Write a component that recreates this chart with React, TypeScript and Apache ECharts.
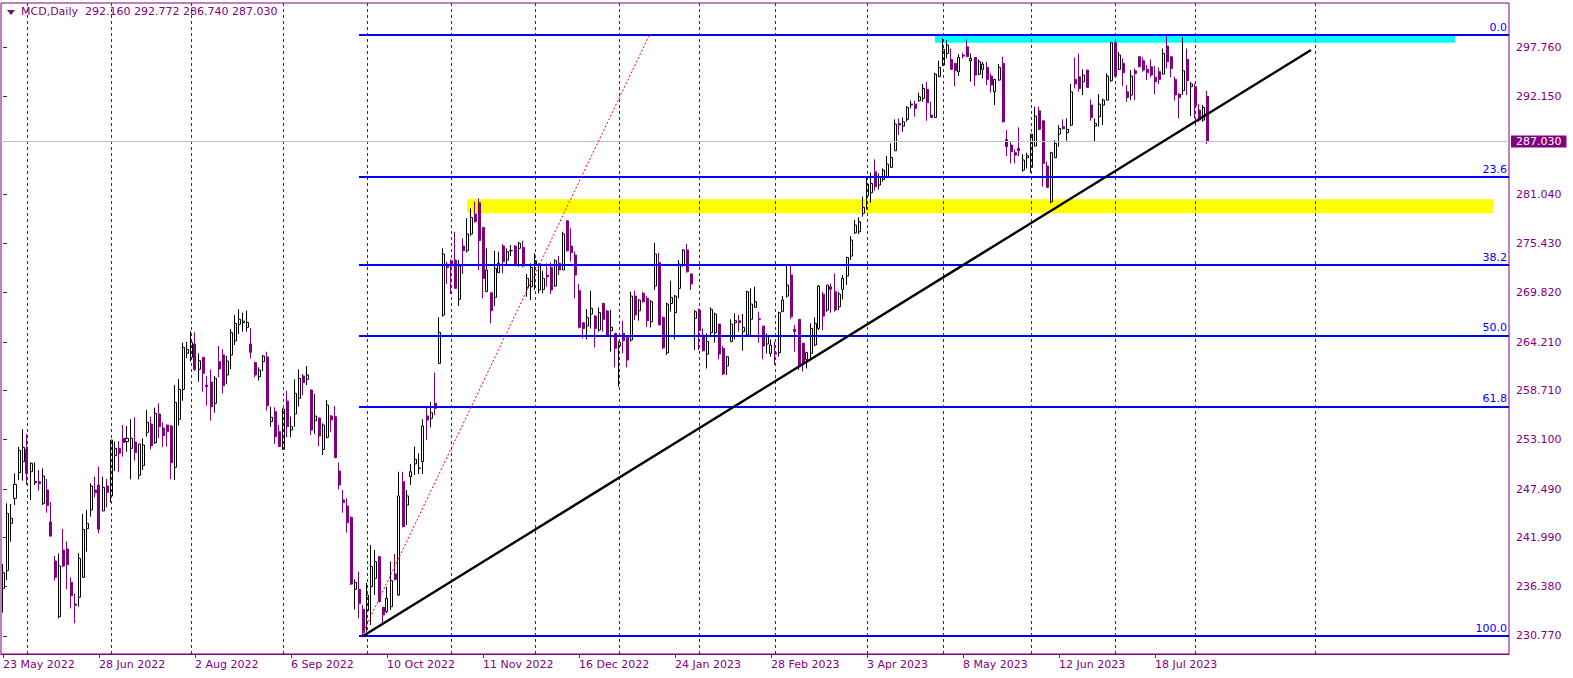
import React, { useEffect, useRef } from "react";
import * as echarts from "echarts";

const SYMBOL = "MCD";
const PERIOD = "Daily";
const START_DATE = "2022-05-23";
const TOTAL_SLOTS = 377;
const HOLIDAYS = [
  "2022-05-30", "2022-06-20", "2022-07-04", "2022-09-05", "2022-11-24", "2022-12-26",
  "2023-01-02", "2023-01-16", "2023-02-20", "2023-04-07", "2023-05-29", "2023-06-19",
  "2023-07-04", "2023-09-04",
];
const MONTHS = ["Jan", "Feb", "Mar", "Apr", "May", "Jun", "Jul", "Aug", "Sep", "Oct", "Nov", "Dec"];

const OPEN = [
  236.19, 238.2, 243.58, 246.43, 249.35, 250.6, 252.0, 249.46, 248.2, 248.32,
  245.82, 247.38, 243.74, 239.3, 232.97, 240.55, 240.66, 236.87, 234.41, 235.17,
  237.44, 242.98, 245.1, 247.38, 247.95, 244.99, 247.83, 246.7, 251.28, 252.12,
  253.26, 252.88, 252.12, 252.84, 249.05, 250.15, 253.94, 254.89, 252.76, 256.02,
  254.43, 254.77, 254.66, 249.96, 255.42, 258.83, 262.93, 262.47, 263.99, 261.11,
  262.47, 259.32, 259.66, 257.24, 261.98, 262.74, 260.46, 262.74, 264.33, 266.22,
  266.42, 265.88, 263.99, 261.86, 260.27, 261.98, 262.51, 255.15, 256.29, 254.01,
  252.0, 257.5, 254.2, 256.02, 257.81, 260.35, 259.97, 258.75, 255.26, 255.57,
  252.0, 253.37, 255.79, 255.72, 249.54, 246.24, 245.56, 244.27, 236.08, 236.08,
  233.8, 233.65, 236.38, 237.33, 239.79, 234.03, 233.54, 234.1, 237.82, 235.43,
  248.32, 245.67, 248.9, 250.34, 249.84, 250.6, 255.8, 255.53, 257.24, 261.78,
  267.28, 273.08, 273.46, 273.54, 269.06, 275.13, 274.6, 276.5, 278.77, 280.06,
  277.25, 269.94, 269.82, 269.29, 272.1, 275.13, 273.54, 274.6, 275.13, 274.87,
  274.98, 270.43, 270.5, 272.97, 270.13, 270.2, 271.83, 272.7, 270.58, 273.16,
  272.4, 278.01, 275.13, 274.11, 270.05, 266.41, 266.04, 267.39, 267.17, 265.58,
  268.6, 267.74, 265.5, 265.2, 263.76, 265.2, 264.74, 264.44, 269.44, 267.77,
  269.75, 269.18, 266.52, 270.58, 273.24, 267.02, 262.99, 268.6, 267.55, 270.32,
  272.97, 274.68, 271.95, 266.9, 267.85, 265.01, 262.84, 265.27, 265.27, 266.26,
  263.49, 261.48, 264.25, 266.41, 266.64, 265.39, 265.01, 266.79, 268.15, 266.87,
  266.03, 263.98, 262.92, 263.0, 263.0, 267.66, 269.44, 271.83, 265.65, 266.79,
  264.06, 262.2, 262.92, 263.87, 265.76, 269.66, 267.85, 270.5, 269.93, 268.22,
  270.2, 271.71, 273.99, 276.64, 276.75, 278.84, 280.85, 281.19, 283.58, 282.07,
  282.71, 283.01, 284.08, 285.97, 289.08, 288.78, 289.54, 291.2, 291.28, 291.66,
  291.92, 292.95, 290.03, 289.76, 294.39, 295.72, 297.04, 296.36, 295.91, 294.96,
  296.86, 297.8, 296.21, 296.59, 294.69, 295.23, 295.45, 294.47, 292.68, 294.01,
  295.91, 287.26, 286.62, 285.75, 286.24, 283.77, 285.18, 284.08, 286.5, 290.52,
  289.38, 284.23, 280.17, 285.18, 287.87, 288.7, 288.02, 288.89, 294.09, 294.39,
  293.82, 295.15, 291.17, 288.78, 289.84, 291.17, 291.73, 293.94, 298.26, 295.23,
  295.91, 292.68, 292.31, 295.07, 296.67, 296.21, 295.23, 295.53, 294.32, 294.96,
  294.69, 297.88, 296.67, 294.09, 292.42, 292.8, 296.36, 293.26, 293.25, 290.6,
  289.46, 292.16,
];
const HIGH = [
  238.96, 245.86, 245.78, 249.27, 252.31, 254.28, 253.71, 250.52, 250.52, 249.65,
  249.84, 248.63, 246.01, 239.87, 240.17, 242.94, 241.54, 237.44, 235.62, 240.17,
  244.65, 245.1, 248.14, 248.9, 250.03, 248.9, 248.63, 253.06, 252.88, 252.95,
  254.77, 254.66, 255.42, 255.65, 252.61, 253.26, 256.48, 255.72, 256.74, 257.24,
  255.08, 254.81, 254.77, 259.32, 260.0, 264.14, 264.25, 265.47, 265.31, 262.92,
  262.47, 260.35, 261.1, 260.35, 263.76, 263.38, 262.62, 265.69, 267.29, 267.93,
  267.55, 267.78, 265.77, 261.97, 261.33, 262.74, 263.11, 256.86, 256.78, 254.77,
  256.67, 258.68, 255.72, 259.97, 261.1, 260.57, 261.48, 258.83, 258.3, 255.61,
  254.96, 257.62, 255.91, 256.93, 250.49, 247.38, 246.43, 244.34, 237.21, 238.09,
  234.29, 236.83, 241.12, 240.55, 239.87, 234.1, 236.38, 239.23, 240.1, 249.46,
  249.46, 247.38, 250.34, 252.31, 251.55, 255.42, 256.86, 257.43, 260.73, 267.02,
  274.87, 273.35, 273.61, 276.76, 273.54, 276.0, 278.28, 279.42, 280.18, 280.55,
  277.25, 274.87, 269.82, 274.6, 274.49, 275.36, 274.87, 275.25, 275.25, 275.63,
  275.74, 271.95, 273.16, 274.3, 273.16, 272.33, 273.16, 273.24, 273.61, 273.99,
  276.76, 278.09, 277.14, 274.49, 270.81, 266.41, 267.93, 270.05, 267.28, 268.15,
  268.68, 267.85, 267.85, 265.2, 264.3, 266.64, 264.74, 269.94, 270.05, 269.06,
  269.94, 269.44, 268.99, 275.51, 274.37, 267.09, 268.68, 271.19, 269.56, 273.54,
  274.75, 275.36, 272.02, 267.85, 268.04, 265.76, 265.2, 268.15, 267.55, 266.26,
  263.76, 262.62, 266.79, 267.47, 267.28, 267.39, 270.05, 270.32, 270.5, 267.66,
  266.03, 265.2, 264.51, 264.25, 267.66, 269.44, 273.08, 273.08, 266.15, 266.79,
  264.14, 263.11, 266.33, 267.01, 270.69, 269.93, 270.69, 270.88, 272.02, 269.93,
  271.83, 273.91, 276.26, 278.09, 278.39, 280.74, 283.01, 283.47, 284.99, 283.39,
  283.96, 285.37, 286.81, 289.54, 289.65, 289.76, 291.05, 291.66, 291.66, 292.57,
  293.56, 293.82, 291.54, 294.85, 296.21, 298.75, 298.56, 297.61, 295.98, 296.97,
  297.12, 298.64, 297.04, 296.59, 296.36, 296.1, 296.1, 294.77, 294.09, 295.83,
  296.67, 288.32, 286.99, 286.12, 288.63, 285.59, 285.75, 287.87, 290.98, 290.98,
  289.38, 284.72, 285.86, 287.19, 288.89, 289.54, 289.65, 293.56, 296.59, 297.04,
  295.23, 295.15, 291.81, 289.65, 292.42, 291.92, 294.77, 298.26, 298.3, 297.23,
  296.48, 293.44, 295.15, 295.34, 296.74, 296.59, 295.72, 296.36, 295.6, 295.45,
  297.61, 299.1, 296.67, 294.39, 292.49, 298.87, 297.61, 293.82, 293.63, 291.28,
  291.17, 292.772,
];
const LOW = [
  233.42, 237.14, 241.5, 245.67, 248.51, 248.44, 247.95, 246.24, 247.95, 247.3,
  245.67, 244.8, 242.07, 237.06, 232.78, 238.58, 236.08, 233.91, 232.21, 234.1,
  237.44, 240.36, 244.34, 246.54, 242.45, 244.99, 245.41, 245.97, 249.54, 249.39,
  251.17, 251.74, 248.59, 250.71, 248.59, 249.65, 253.44, 252.0, 252.61, 253.29,
  252.23, 252.31, 248.63, 248.51, 254.7, 257.54, 262.36, 261.98, 260.92, 259.7,
  258.56, 256.97, 255.26, 256.17, 260.2, 258.37, 259.44, 261.14, 263.87, 265.12,
  265.39, 265.39, 262.36, 260.2, 259.82, 260.92, 256.4, 254.58, 252.61, 252.31,
  251.93, 253.37, 253.37, 254.58, 256.86, 258.18, 259.32, 253.63, 253.75, 252.38,
  251.36, 253.26, 254.01, 251.05, 247.45, 244.8, 242.52, 236.57, 233.8, 232.78,
  230.77, 231.26, 232.02, 235.43, 234.67, 232.1, 233.35, 233.73, 237.06, 235.32,
  243.13, 243.39, 247.95, 249.08, 249.2, 249.2, 253.07, 254.51, 255.91, 261.78,
  267.1, 270.81, 269.67, 270.32, 268.31, 271.95, 274.4, 276.3, 277.79, 272.4,
  269.18, 269.94, 266.33, 268.31, 272.1, 272.02, 273.08, 273.99, 272.86, 272.78,
  272.7, 269.37, 268.99, 270.13, 269.75, 269.75, 270.5, 269.67, 270.5, 271.83,
  272.4, 274.49, 273.35, 269.18, 265.76, 264.63, 264.51, 265.76, 263.6, 265.39,
  265.39, 265.01, 263.11, 261.33, 259.13, 262.92, 261.33, 264.25, 266.72, 266.64,
  268.68, 265.95, 265.88, 270.13, 266.15, 263.38, 262.74, 267.66, 264.51, 269.18,
  272.78, 272.1, 270.13, 263.3, 263.3, 263.11, 261.21, 265.01, 264.14, 262.24,
  260.46, 260.46, 264.25, 264.51, 265.39, 263.23, 265.01, 265.01, 268.15, 264.14,
  262.24, 262.92, 262.54, 261.6, 262.54, 267.66, 269.29, 266.79, 263.11, 261.03,
  260.84, 261.21, 262.2, 263.75, 265.57, 265.57, 267.66, 267.54, 267.66, 267.85,
  269.06, 270.69, 273.54, 276.49, 276.49, 278.47, 279.3, 280.06, 281.42, 281.57,
  282.45, 282.94, 284.08, 285.97, 287.75, 288.13, 289.27, 290.79, 289.84, 291.54,
  291.54, 289.38, 289.76, 289.76, 294.39, 295.6, 296.48, 295.23, 293.33, 294.47,
  296.48, 296.67, 293.82, 293.33, 294.58, 294.2, 293.44, 292.57, 291.17, 293.94,
  289.16, 285.37, 284.53, 284.53, 285.37, 283.58, 283.96, 283.47, 286.5, 288.32,
  281.88, 281.8, 279.98, 285.18, 286.43, 288.4, 287.11, 288.78, 293.06, 292.68,
  292.31, 293.18, 289.38, 286.99, 288.7, 288.89, 291.73, 293.82, 294.39, 295.15,
  293.33, 291.54, 291.73, 291.73, 295.45, 294.96, 294.01, 294.32, 292.42, 293.56,
  294.69, 295.34, 294.32, 291.66, 289.65, 292.31, 292.31, 289.92, 289.65, 289.27,
  289.27, 286.74,
];
const CLOSE = [
  237.97, 244.72, 244.15, 248.02, 251.89, 252.23, 249.27, 250.41, 248.35, 248.1,
  248.97, 245.6, 242.14, 237.44, 238.73, 238.73, 238.88, 235.35, 234.26, 239.6,
  242.9, 243.58, 247.83, 247.07, 242.9, 247.68, 247.11, 253.06, 252.12, 251.55,
  252.76, 253.26, 253.26, 251.62, 252.61, 252.5, 255.08, 252.42, 256.1, 254.58,
  253.56, 254.01, 250.49, 257.35, 258.83, 263.61, 263.38, 264.18, 261.11, 262.09,
  260.65, 259.13, 256.86, 260.08, 261.14, 259.25, 262.05, 265.28, 266.34, 266.8,
  266.6, 266.45, 263.04, 260.46, 261.03, 262.62, 256.97, 255.65, 253.44, 252.31,
  256.59, 254.58, 254.58, 258.37, 260.08, 259.59, 260.46, 254.2, 255.79, 253.52,
  254.77, 257.05, 255.34, 251.05, 247.95, 245.94, 243.66, 236.68, 236.87, 234.48,
  231.15, 235.43, 238.66, 239.23, 234.67, 233.16, 235.05, 237.06, 237.21, 246.7,
  243.21, 246.7, 249.46, 250.87, 249.88, 254.66, 255.34, 256.17, 256.67, 265.31,
  274.22, 272.7, 272.86, 270.32, 272.86, 274.6, 276.5, 278.39, 277.9, 275.74,
  271.45, 272.4, 267.77, 272.59, 273.16, 273.35, 274.49, 274.62, 273.08, 275.44,
  272.86, 271.45, 272.7, 273.46, 273.08, 271.45, 271.64, 270.13, 273.46, 272.4,
  276.5, 274.6, 274.37, 271.83, 265.88, 265.76, 266.99, 268.04, 265.76, 267.55,
  266.79, 265.01, 265.88, 263.49, 264.14, 264.36, 262.16, 269.44, 267.28, 268.99,
  268.8, 266.64, 268.8, 274.22, 266.15, 263.56, 268.53, 269.29, 269.44, 273.08,
  274.68, 272.21, 270.81, 267.66, 265.5, 263.23, 264.25, 267.93, 267.39, 262.84,
  260.57, 262.54, 266.26, 266.64, 266.41, 265.88, 269.94, 268.53, 268.8, 266.79,
  263.76, 264.89, 263.87, 262.84, 267.55, 268.99, 270.69, 267.09, 265.39, 261.41,
  261.79, 263.0, 265.76, 266.33, 270.58, 267.16, 270.69, 270.2, 267.85, 269.66,
  271.45, 273.83, 275.81, 277.52, 277.9, 279.53, 282.18, 282.26, 281.88, 283.01,
  283.77, 284.45, 285.21, 289.01, 288.89, 289.27, 290.9, 291.28, 290.79, 292.12,
  293.06, 291.43, 289.76, 294.69, 295.45, 297.5, 298.0, 295.23, 295.07, 296.59,
  296.74, 296.67, 296.48, 294.58, 296.1, 295.83, 294.09, 293.44, 294.09, 295.45,
  289.27, 286.43, 285.86, 285.48, 285.97, 284.91, 285.41, 287.87, 289.92, 288.4,
  284.53, 281.8, 285.75, 286.81, 288.51, 288.47, 288.4, 292.68, 293.56, 293.06,
  294.58, 293.18, 289.76, 289.08, 291.28, 291.73, 294.47, 298.26, 294.47, 296.86,
  294.85, 292.04, 294.47, 294.77, 295.53, 295.15, 294.85, 294.58, 293.82, 294.09,
  297.04, 296.1, 295.34, 292.31, 292.04, 295.07, 293.94, 293.56, 291.05, 289.46,
  290.9, 287.03,
];

const Y_MIN = 228.72;
const Y_MAX = 302.78;
const Y_LABELS = [230.77, 236.38, 241.99, 247.49, 253.1, 258.71, 264.21, 269.82, 275.43, 281.04, 292.15, 297.76];
const X_LABEL_STEP = 24;

const FIB_HIGH = 299.14;
const FIB_LOW = 230.77;
const FIB_LEVELS = [0, 23.6, 38.2, 50, 61.8, 100];
const FIB_START = 89;
const FIB_GUIDE = [[89.6, 230.77], [161.6, 299.14]];
const TREND_LINE = [[90, 230.77], [327, 297.43]];
const YELLOW_ZONE = [116, 280.45, 372.5, 278.85];
const CYAN_ZONE = [233, 299.14, 363, 298.26];
const EXTRA_VLINE = 328;

const PURPLE = "#800080";
const FONT = "DejaVu Sans";

function buildDates(start: string, n: number): string[] {
  const out: string[] = [];
  const hol = new Set(HOLIDAYS);
  const d = new Date(start + "T00:00:00Z");
  while (out.length < n) {
    const iso = d.toISOString().slice(0, 10);
    const wd = d.getUTCDay();
    if (wd !== 0 && wd !== 6 && !hol.has(iso)) out.push(iso);
    d.setUTCDate(d.getUTCDate() + 1);
  }
  return out;
}

function fmtDate(iso: string): string {
  const [y, m, d] = iso.split("-").map(Number);
  return `${d} ${MONTHS[m - 1]} ${y}`;
}

export default function App() {
  const ref = useRef<HTMLDivElement>(null);

  useEffect(() => {
    if (!ref.current) return;
    const chart = echarts.init(ref.current, null, { renderer: "svg" });
    const dates = buildDates(START_DATE, TOTAL_SLOTS);
    const last = CLOSE.length - 1;
    const candles = OPEN.map((o, i) => [o, CLOSE[i], LOW[i], HIGH[i]]);
    const showLabel = (i: number) => i % X_LABEL_STEP === 0 && i <= last;

    const separators: number[] = [];
    for (let i = 1; i <= last; i++) {
      if (dates[i].slice(0, 7) !== dates[i - 1].slice(0, 7)) separators.push(i);
    }
    separators.push(EXTRA_VLINE);

    const rectSeries = (zone: number[], color: string) => ({
      type: "custom",
      xAxisIndex: 1,
      yAxisIndex: 0,
      z: 1,
      silent: true,
      data: [zone],
      encode: { x: [0, 2], y: [1, 3] },
      renderItem: (_p: any, api: any) => {
        const a = api.coord([api.value(0), api.value(1)]);
        const b = api.coord([api.value(2), api.value(3)]);
        return {
          type: "rect",
          shape: {
            x: Math.min(a[0], b[0]),
            y: Math.min(a[1], b[1]),
            width: Math.abs(b[0] - a[0]),
            height: Math.abs(b[1] - a[1]),
          },
          style: { fill: color },
        };
      },
    });

    const fibRange = FIB_HIGH - FIB_LOW;
    const fibLines = FIB_LEVELS.map((lvl) => {
      const p = FIB_HIGH - (fibRange * lvl) / 100;
      return [
        {
          coord: [FIB_START, p],
          lineStyle: { color: "#0000FF", width: 2, type: "solid" },
          label: {
            show: true,
            position: "insideEndTop",
            formatter: lvl.toFixed(1),
            color: "#0000FF",
            fontFamily: FONT,
            fontSize: 11,
            distance: 2,
          },
        },
        { coord: [TOTAL_SLOTS - 0.5, p] },
      ];
    });

    const lastBar = [OPEN[last], HIGH[last], LOW[last], CLOSE[last]];
    const header = `${SYMBOL},${PERIOD}  ${lastBar.map((v) => v.toFixed(3)).join(" ")}`;

    chart.setOption({
      animation: false,
      backgroundColor: "#FFFFFF",
      textStyle: { fontFamily: FONT, fontSize: 11 },
      grid: {
        left: 1,
        right: 64,
        top: 3,
        bottom: 24,
        show: true,
        borderColor: PURPLE,
        borderWidth: 1,
        backgroundColor: "#FFFFFF",
      },
      xAxis: [
        {
          type: "category",
          data: dates,
          boundaryGap: true,
          axisLine: { show: true, lineStyle: { color: PURPLE } },
          axisTick: {
            show: true,
            alignWithLabel: true,
            interval: (i: number) => showLabel(i),
            length: 4,
            lineStyle: { color: PURPLE },
          },
          axisLabel: {
            interval: (i: number) => showLabel(i),
            formatter: (v: string) => fmtDate(v),
            align: "left",
            color: PURPLE,
            fontFamily: FONT,
            fontSize: 11,
            margin: 5,
            hideOverlap: false,
          },
          splitLine: { show: false },
        },
        {
          type: "value",
          min: -0.5,
          max: TOTAL_SLOTS - 0.5,
          show: false,
          splitLine: { show: false },
        },
      ],
      yAxis: {
        type: "value",
        position: "right",
        min: Y_MIN,
        max: Y_MAX,
        splitLine: { show: false },
        axisLine: { show: false },
        axisTick: {
          show: true,
          customValues: Y_LABELS,
          length: 4,
          lineStyle: { color: PURPLE },
        },
        axisLabel: {
          customValues: Y_LABELS,
          formatter: (v: number) => v.toFixed(3),
          color: PURPLE,
          fontFamily: FONT,
          fontSize: 11,
          margin: 7,
        },
      },
      graphic: [
        {
          type: "polygon",
          shape: { points: [[7, 10], [15, 10], [11, 15]] },
          style: { fill: PURPLE },
          z: 100,
        },
        {
          type: "text",
          x: 21,
          y: 6,
          z: 100,
          style: {
            text: header,
            fill: PURPLE,
            font: `11px "${FONT}"`,
            align: "left",
            verticalAlign: "top",
          },
        },
      ],
      series: [
        rectSeries(YELLOW_ZONE, "#FFFF00"),
        rectSeries(CYAN_ZONE, "#00FFFF"),
        {
          type: "line",
          xAxisIndex: 1,
          yAxisIndex: 0,
          z: 1,
          silent: true,
          symbol: "none",
          lineStyle: { opacity: 0 },
          data: [[0, CLOSE[last]], [last, CLOSE[last]]],
          markLine: {
            silent: true,
            symbol: ["none", "none"],
            animation: false,
            data: [
              ...separators.map((i) => ({
                xAxis: i,
                lineStyle: { color: PURPLE, width: 1, type: [3, 3] },
                label: { show: false },
              })),
              {
                yAxis: CLOSE[last],
                lineStyle: { color: "#C0C0C0", width: 1, type: "solid" },
                label: {
                  show: true,
                  position: "end",
                  distance: 2,
                  formatter: CLOSE[last].toFixed(3),
                  color: "#FFFFFF",
                  backgroundColor: PURPLE,
                  padding: [0, 5, 0, 5],
                  lineHeight: 12,
                  fontFamily: FONT,
                  fontSize: 11,
                },
              },
            ],
          },
        },
        {
          type: "candlestick",
          xAxisIndex: 0,
          yAxisIndex: 0,
          z: 2,
          barWidth: 2.5,
          silent: true,
          data: candles,
          itemStyle: {
            color: "#FFFFFF",
            color0: PURPLE,
            borderColor: "#000000",
            borderColor0: PURPLE,
            borderColorDoji: "#000000",
            borderWidth: 1,
          },
        },
        {
          type: "line",
          xAxisIndex: 1,
          yAxisIndex: 0,
          z: 3,
          silent: true,
          symbol: "none",
          lineStyle: { opacity: 0 },
          data: TREND_LINE,
          markLine: {
            silent: true,
            symbol: ["none", "none"],
            animation: false,
            label: { show: false },
            data: [
              ...fibLines,
              [
                {
                  coord: FIB_GUIDE[0],
                  lineStyle: { color: "#FF0000", width: 1, type: [2, 2] },
                  label: { show: false },
                },
                { coord: FIB_GUIDE[1] },
              ],
              [
                {
                  coord: TREND_LINE[0],
                  lineStyle: { color: "#000000", width: 2.5, type: "solid" },
                  label: { show: false },
                },
                { coord: TREND_LINE[1] },
              ],
            ],
          },
        },
      ],
    });

    return () => chart.dispose();
  }, []);

  return (
    <div
      ref={ref}
      style={{ position: "fixed", left: 0, top: 0, width: 1573, height: 678, background: "#FFFFFF" }}
    />
  );
}
